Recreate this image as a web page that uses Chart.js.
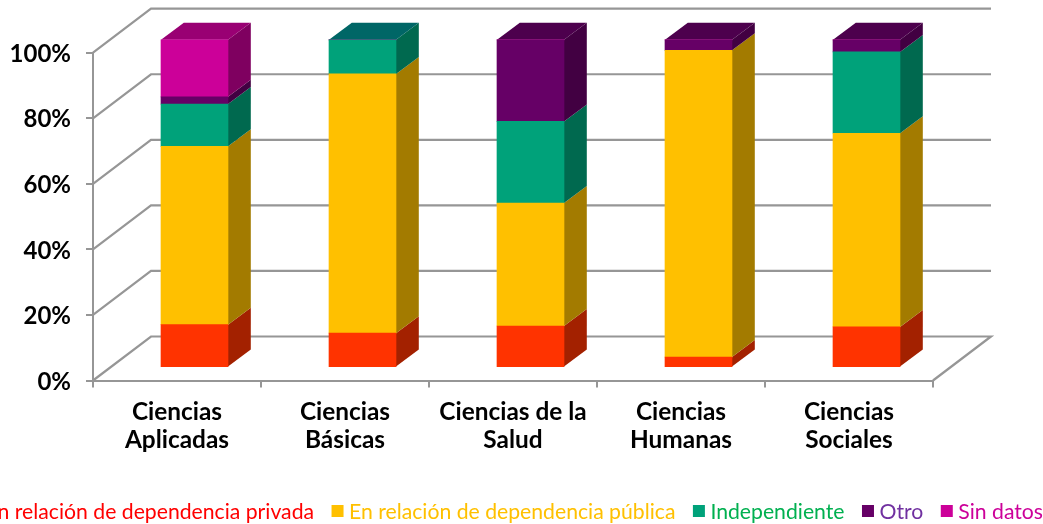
<!DOCTYPE html>
<html><head><meta charset="utf-8">
<style>html,body{margin:0;padding:0;background:#fff;overflow:hidden}#w{position:relative;width:1043px;height:524px}</style>
<script src="https://cdn.jsdelivr.net/npm/chart.js@4"></script>
</head><body><div id="w"><canvas id="c" width="1043" height="524"></canvas></div>
<script>
const categories = [["Ciencias","Aplicadas"],["Ciencias","Básicas"],["Ciencias de la","Salud"],["Ciencias","Humanas"],["Ciencias","Sociales"]];
const privada = [13.1,10.5,12.7,3.2,12.4];
const publica = [54.4,79.1,37.5,93.6,59.1];
const independiente = [12.9,10.4,24.9,0,24.8];
const otro = [2.2,0,24.9,3.2,3.7];
const sinDatos = [17.4,0,0,0,0];
const seriesNames = ["En relación de dependencia privada","En relación de dependencia pública","Independiente","Otro","Sin datos"];
const frontColors = ["#FF3300","#FFC000","#00A27A","#660066","#CC0099"];
const sideColors = ["#A32100","#A37B00","#00694F","#420042","#7F0060"];
const topColors = ["#BF2600","#BF9000","#006666","#4D004D","#990073"];
const legendTextColors = ["#FF0000","#FFC000","#00B050","#7030A0","#CC0099"];
const yTicks = [0,20,40,60,80,100];

const GRID = "#969696";
const wall = {dx:58, dy:-44};
const bar = {ox:17.5, oy:-12.9, dx:22.8, dy:-17};

function poly(ctx, pts, fill){
  ctx.fillStyle = fill; ctx.beginPath();
  pts.forEach((p,i)=> i ? ctx.lineTo(p[0],p[1]) : ctx.moveTo(p[0],p[1]));
  ctx.closePath(); ctx.fill();
}
const threeD = {
  id:'threeD',
  beforeDatasetsDraw(chart){
    const {ctx, chartArea:a, scales:{y}} = chart;
    ctx.save();
    ctx.strokeStyle = GRID; ctx.lineWidth = 2.2;
    yTicks.forEach(v=>{
      const py = y.getPixelForValue(v);
      ctx.beginPath();
      ctx.moveTo(a.left, py);
      ctx.lineTo(a.left+wall.dx, py+wall.dy);
      ctx.lineTo(a.right+wall.dx, py+wall.dy);
      if(v===0) ctx.lineTo(a.right, py);
      ctx.stroke();
    });
    ctx.restore();
    ctx.save();
    ctx.translate(bar.ox, bar.oy);
    chart.data.labels.forEach((_,i)=>{
      let topDs = -1;
      chart.data.datasets.forEach((ds,d)=>{ if(ds.data[i]>0) topDs = d; });
      chart.data.datasets.forEach((ds,d)=>{
        if(!(ds.data[i]>0)) return;
        const el = chart.getDatasetMeta(d).data[i];
        const xl = el.x-el.width/2, xr = el.x+el.width/2, yt = el.y, yb = el.base;
        poly(ctx,[[xr,yt],[xr+bar.dx,yt+bar.dy],[xr+bar.dx,yb+bar.dy],[xr,yb]],sideColors[d]);
        if(d===topDs) poly(ctx,[[xl,yt],[xl+bar.dx,yt+bar.dy],[xr+bar.dx,yt+bar.dy],[xr,yt]],topColors[d]);
      });
    });
  },
  afterDatasetsDraw(chart){ chart.ctx.restore(); }
};
const nudgeLabels = {
  id:'nudgeLabels',
  beforeDraw(chart){
    chart.scales.y.getLabelItems(chart.chartArea).forEach(it=>{ it.options.translation[1] += 1.5; });
  }
};
const sideLegend = {
  id:'sideLegend',
  afterDraw(chart){
    const ctx = chart.ctx, box=12, gap=5.5, sep=17.5, cy=511;
    ctx.save();
    ctx.font = '21.2px Lato'; ctx.textBaseline='middle'; ctx.textAlign='left';
    const names = chart.data.datasets.map(d=>d.label);
    const w = names.map(n=>ctx.measureText(n).width);
    const total = w.reduce((s,v)=>s+v+box+gap,0)+sep*(names.length-1);
    let x = 1043-total;
    names.forEach((n,i)=>{
      ctx.fillStyle = frontColors[i];
      ctx.fillRect(x,cy-box/2,box,box);
      x += box+gap;
      ctx.fillStyle = legendTextColors[i];
      ctx.fillText(n,x,cy+1);
      x += w[i]+sep;
    });
    ctx.restore();
  }
};
const seriesValues = [privada,publica,independiente,otro,sinDatos];
new Chart(document.getElementById('c'),{
  type:'bar',
  data:{labels:categories,datasets:seriesNames.map((n,i)=>({
    label:n,data:seriesValues[i],backgroundColor:frontColors[i],borderWidth:0,barThickness:67,clip:false
  }))},
  options:{
    responsive:false,animation:false,
    layout:{padding:{left:0,top:52.7,right:110,bottom:0}},
    plugins:{legend:{display:false},tooltip:{enabled:false},title:{display:false}},
    scales:{
      x:{stacked:true,afterFit(s){s.height=143.5;},
        grid:{drawOnChartArea:false,color:GRID,lineWidth:2,tickLength:7,offset:true},
        border:{color:GRID,width:2},
        ticks:{color:"#000",font:{family:'Lato',size:24.4,weight:'bold',lineHeight:1.15},maxRotation:0,autoSkip:false,padding:11}},
      y:{stacked:true,min:0,max:100,afterFit(s){s.width=93;},
        grid:{drawOnChartArea:false,color:GRID,lineWidth:2,tickLength:7},
        border:{color:GRID,width:2},
        ticks:{color:"#000",stepSize:20,font:{family:'Lato',size:24,weight:'bold'},padding:15,callback:v=>v+'%'}}
    }
  },
  plugins:[threeD,nudgeLabels,sideLegend]
});
</script></body></html>
